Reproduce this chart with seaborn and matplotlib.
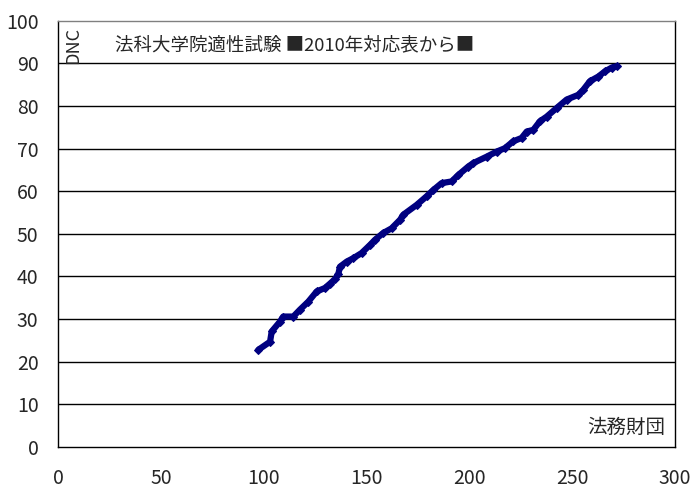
import pandas as pd
import matplotlib
matplotlib.use("Agg")
import matplotlib.pyplot as plt
import seaborn as sns

# 法務財団 score -> DNC
zaidan = [97.4, 103.1, 103.9, 107.9, 109.5, 114.4, 117.6, 121.7, 125.8, 129.8,
          132.2, 134.7, 136.3, 137.1, 140.4, 143.6, 147.6, 151.7, 154.1, 158.1,
          162.2, 166.3, 167.9, 174.4, 179.2, 182.5, 186.5, 191.4, 194.6, 199.5,
          201.9, 208.4, 213.3, 217.3, 221.3, 225.4, 227.9, 231.1, 234.3, 237.6,
          242.4, 247.3, 252.9, 255.4, 258.6, 262.7, 265.9, 269.2, 271.6]
dnc = [22.8, 24.7, 27.1, 29.4, 30.6, 30.6, 32.2, 34.1, 36.5, 37.3,
       38.3, 39.4, 40.6, 42.3, 43.5, 44.3, 45.5, 47.4, 48.6, 50.2,
       51.3, 53.3, 54.5, 56.8, 58.8, 60.3, 61.9, 62.3, 63.8, 65.8,
       66.6, 68.1, 69.3, 70.1, 71.7, 72.5, 74.0, 74.4, 76.4, 77.5,
       79.5, 81.5, 82.6, 83.8, 85.8, 86.9, 88.1, 89.0, 89.3]

x_ticks = [0, 50, 100, 150, 200, 250, 300]
y_ticks = list(range(0, 101, 10))

sns.set_style("white")
plt.rcParams['font.family'] = ['Noto Sans CJK JP', 'DejaVu Sans']

df = pd.DataFrame({"zaidan": zaidan, "dnc": dnc})

fig = plt.figure(figsize=(6.99, 4.97), dpi=100)
ax = fig.add_axes([0.083, 0.1006, 0.8827, 0.8577])

sns.lineplot(data=df, x="zaidan", y="dnc", ax=ax, color="#000080",
             marker="D", markersize=4.5, markeredgecolor="#000080",
             linewidth=4.5, sort=False)

ax.set_xlim(0, 300)
ax.set_ylim(0, 100)
ax.set_xticks(x_ticks)
ax.set_yticks(y_ticks)
ax.set_xlabel("")
ax.set_ylabel("")

# horizontal gridlines only
for v in y_ticks[1:-1]:
    ax.axhline(v, color="black", linewidth=1, zorder=0)

for s in ["left", "bottom", "right"]:
    ax.spines[s].set_color("black")
    ax.spines[s].set_linewidth(1)
ax.spines["top"].set_color("#808080")
ax.spines["top"].set_linewidth(1)

ax.tick_params(axis="x", direction="in", length=7, width=1, color="black",
               pad=15, labelsize=14)
ax.tick_params(axis="y", length=0, pad=14, labelsize=14)

ax.text(0.024, 0.985, "DNC", transform=ax.transAxes, rotation=90,
        ha="center", va="top", fontsize=13)
ax.text(0.092, 0.943, "法科大学院適性試験 ■2010年対応表から■",
        transform=ax.transAxes, ha="left", va="center", fontsize=13.3)
ax.text(0.984, 0.045, "法務財団", transform=ax.transAxes,
        ha="right", va="center", fontsize=14)

fig.savefig("out.png", dpi=100)
